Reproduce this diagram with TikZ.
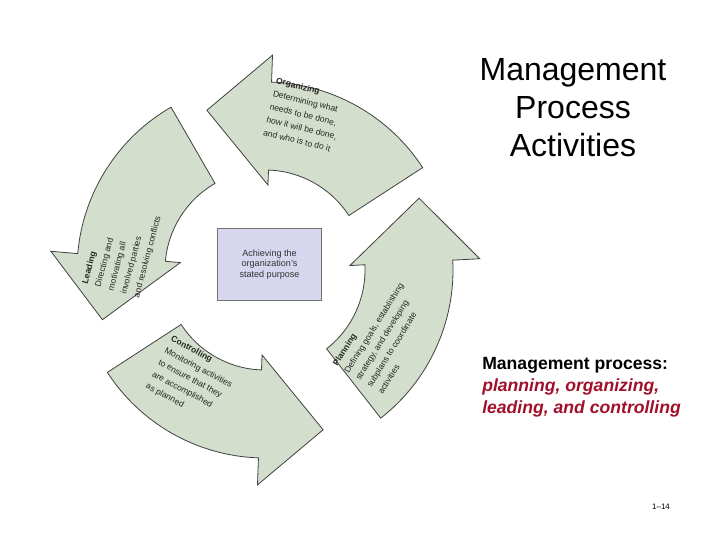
\documentclass[tikz,border=0pt]{standalone}
\usepackage{fontspec}
\setmainfont{Liberation Sans}
\usetikzlibrary{calc}
\definecolor{sage}{HTML}{D3DECC}
\definecolor{boxfill}{HTML}{D6D6EE}
\definecolor{darkred}{HTML}{A0102A}
\begin{document}
\begin{tikzpicture}[x=0.75pt,y=0.75pt,
  arr/.style={fill=sage,draw=black!75,line width=0.6pt,line join=miter},
  lab/.style={font=\fontsize{6.4}{10}\selectfont,align=left,inner sep=0pt,text=black!85}]
\useasboundingbox (0,0) rectangle (720,540);
\coordinate (C) at (265,270);
\foreach \t/\nm in {-52/plan,33/org,120/lead,213/ctrl}{
  \pgfmathsetmacro{\h}{\t+55}
  \pgfmathsetmacro{\tp}{\t+77}
  \draw[arr] ($(C)+(\t:188)$) coordinate(\nm) arc[start angle=\t,end angle=\h,radius=188]
    -- ($(C)+(\h:215)$) -- ($(C)+(\tp:170)$) -- ($(C)+(\h:85)$) -- ($(C)+(\h:100)$)
    arc[start angle=\h,end angle=\t,radius=100] -- cycle;
}
\node[draw=black!55,line width=1.2pt,fill=boxfill,minimum width=78pt,minimum height=54pt,
  font=\fontsize{6.8}{8}\selectfont,align=center,text=black!80] (box) at (269.5,275.5)
  {Achieving the\\organization’s\\stated purpose};
\node[lab,rotate=-14] (torg) at (305,425) {\textbf{Organizing}\\Determining what\\needs to be done,\\how it will be done,\\and who is to do it};
\node[lab,rotate=75] (tlead) at (122,290) {\textbf{Leading}\\Directing and\\motivating all\\involved parties\\and resolving conflicts};
\node[lab,rotate=-28] (tctrl) at (192,160) {\textbf{Controlling}\\Monitoring activities\\to ensure that they\\are accomplished\\as planned};
\node[lab,rotate=58] (tplan) at (385,205) {\textbf{Planning}\\Defining goals, establishing\\strategy, and developing\\subplans to coordinate\\activities};
\node[font=\fontsize{24}{28.5}\selectfont,align=center] (title) at (573,432) {Management\\Process\\Activities};
\node[anchor=north west,font=\fontsize{13.2}{16.5}\selectfont,align=left,inner sep=0pt] (txt) at (482,183)
  {\textbf{Management process:}\\{\color{darkred}\textbf{\textit{planning, organizing,}}}\\{\color{darkred}\textbf{\textit{leading, and controlling}}}};
\node[font=\fontsize{6}{7}\selectfont] (pg) at (661,33) {1–14};
\end{tikzpicture}
\end{document}
